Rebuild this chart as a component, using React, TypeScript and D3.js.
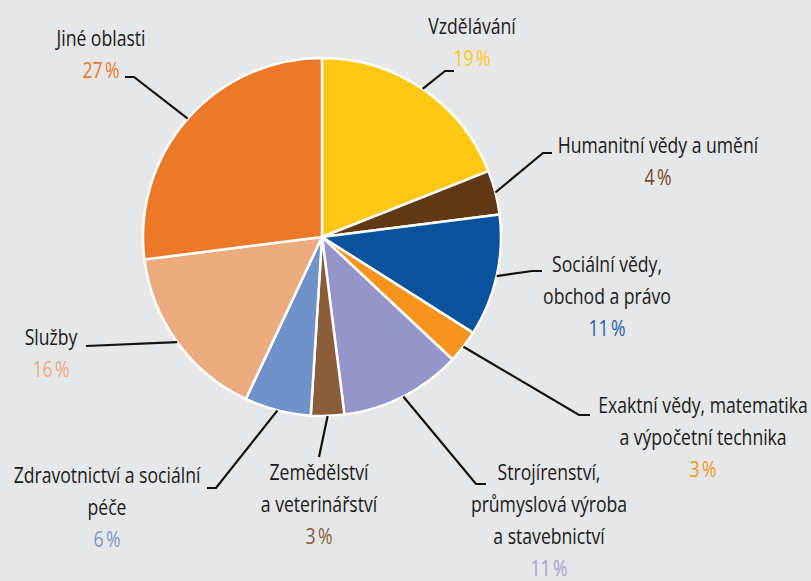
import React from "react";
import * as d3 from "d3";

const categories = [
  "Vzdělávání",
  "Humanitní vědy a umění",
  "Sociální vědy, obchod a právo",
  "Exaktní vědy, matematika a výpočetní technika",
  "Strojírenství, průmyslová výroba a stavebnictví",
  "Zemědělství a veterinářství",
  "Zdravotnictví a sociální péče",
  "Služby",
  "Jiné oblasti",
];
const values = [19, 4, 11, 3, 11, 3, 6, 16, 27];
const labelLines = [
  ["Vzdělávání"],
  ["Humanitní vědy a umění"],
  ["Sociální vědy,", "obchod a právo"],
  ["Exaktní vědy, matematika", "a výpočetní technika"],
  ["Strojírenství,", "průmyslová výroba", "a stavebnictví"],
  ["Zemědělství", "a veterinářství"],
  ["Zdravotnictví a sociální", "péče"],
  ["Služby"],
  ["Jiné oblasti"],
];

// styles
const sliceColors = ["#FFC814", "#603813", "#0B529C", "#F7941D", "#9595C9", "#8A5C3A", "#7092CB", "#EDAC80", "#EB7929"];
const pctColors = ["#FFC814", "#754C24", "#1F5FAA", "#F7941D", "#A3A3D6", "#8A5C3A", "#7B9AD0", "#EDAC80", "#EB7929"];

// layout: label centre x, first baseline y, leader elbow and end
const layout = [
  { x: 472, y: 34, elbow: [445, 71], end: [454, 71] },
  { x: 658, y: 153, elbow: [543, 153], end: [552, 153] },
  { x: 607, y: 272, elbow: [532, 271], end: [542, 271] },
  { x: 703, y: 413, elbow: [579, 415], end: [590, 415] },
  { x: 549, y: 480, elbow: [476, 484], end: [486, 484] },
  { x: 319, y: 480, elbow: [319, 457], end: [319, 457] },
  { x: 107, y: 483, elbow: [216, 488], end: [207, 488] },
  { x: 51, y: 345, elbow: [86, 346], end: [86, 346] },
  { x: 101, y: 46, elbow: [134, 77], end: [125, 77] },
];

const W = 811;
const H = 581;
const cx = 322;
const cy = 237;
const R = 179;
const lineH = 32;
const condense = 0.8;
const font = "'Open Sans', 'Noto Sans', sans-serif";

export default function App() {
  const pie = d3.pie<number>().sort(null).value((d) => d).startAngle(0).endAngle(2 * Math.PI);
  const arcs = pie(values);
  const arc = d3.arc<d3.PieArcDatum<number>>().innerRadius(0).outerRadius(R);
  const line = d3.line();

  return (
    <svg width={W} height={H} style={{ position: "fixed", left: 0, top: 0, background: "#E6E7E8" }}>
      <rect x={0} y={0} width={W} height={H} fill="#E6E7E8" />
      <g transform={`translate(${cx},${cy})`}>
        {arcs.map((a, i) => (
          <path key={categories[i]} d={arc(a) || ""} fill={sliceColors[i]} stroke="#fff" strokeWidth={2.5} strokeLinejoin="round" />
        ))}
      </g>
      {arcs.map((a, i) => {
        const mid = (a.startAngle + a.endAngle) / 2;
        const sx = cx + R * Math.sin(mid);
        const sy = cy - R * Math.cos(mid);
        const L = layout[i];
        const pts: [number, number][] = [[sx, sy], L.elbow as [number, number], L.end as [number, number]];
        return <path key={"l" + i} d={line(pts) || ""} fill="none" stroke="#111" strokeWidth={2.2} />;
      })}
      {labelLines.map((lines, i) => {
        const L = layout[i];
        return (
          <g key={"t" + i} transform={`translate(${L.x},0) scale(${condense},1)`} fontFamily={font} fontSize={22} textAnchor="middle">
            {lines.map((t, j) => (
              <text key={j} x={0} y={L.y + j * lineH} fill="#1a1a1a">
                {t}
              </text>
            ))}
            <text x={0} y={L.y + lines.length * lineH} fill={pctColors[i]}>
              {values[i]}
              <tspan dx={3}>%</tspan>
            </text>
          </g>
        );
      })}
    </svg>
  );
}
